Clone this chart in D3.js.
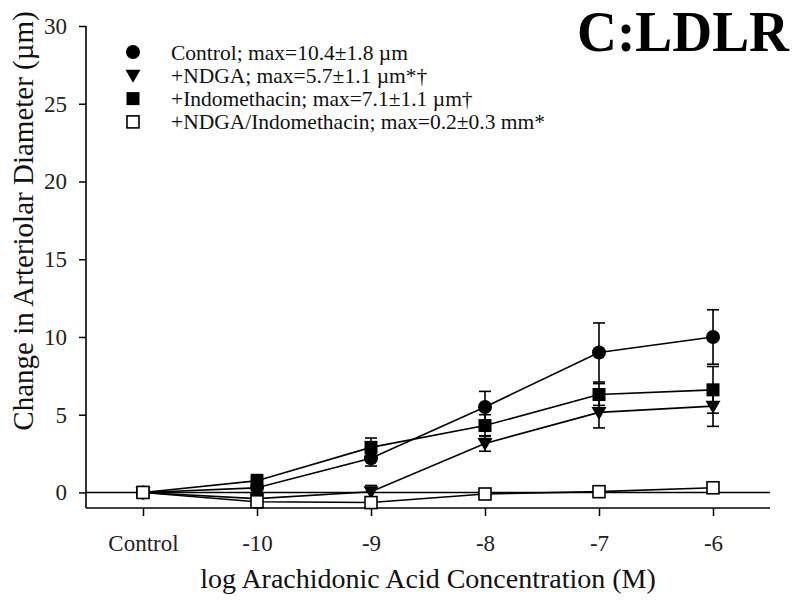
<!DOCTYPE html>
<html><head><meta charset="utf-8">
<script src="https://cdn.jsdelivr.net/npm/d3@7"></script>
<style>body{margin:0;background:#fff}svg{display:block}</style>
</head><body>
<script>
const categories = ["Control", "-10", "-9", "-8", "-7", "-6"];
const yTicks = [0, 5, 10, 15, 20, 25, 30];
const seriesNames = [
  "Control; max=10.4\u00b11.8 \u00b5m",
  "+NDGA; max=5.7\u00b11.1 \u00b5m*\u2020",
  "+Indomethacin; max=7.1\u00b11.1 \u00b5m\u2020",
  "+NDGA/Indomethacin; max=0.2\u00b10.3 mm*"
];
const controlMean = [0, 0.3, 2.2, 5.5, 9.0, 10.0];
const controlErr  = [0.2, 0.6, 0.5, 1.0, 1.9, 1.75];
const ndgaMean    = [0, -0.4, 0.05, 3.15, 5.15, 5.55];
const ndgaErr     = [0.2, 0.3, 0.4, 0.5, 1.0, 1.3];
const indoMean    = [0, 0.75, 2.9, 4.3, 6.3, 6.6];
const indoErr     = [0.2, 0.4, 0.6, 0.7, 0.7, 1.5];
const bothMean    = [0, -0.6, -0.65, -0.1, 0.05, 0.3];
const bothErr     = [0.1, 0.2, 0.2, 0.2, 0.2, 0.3];

const W = 800, H = 603;
const svg = d3.select("body").append("svg").attr("width", W).attr("height", H);
const font = "'Liberation Serif', 'Times New Roman', serif";

const x = d3.scaleLinear().domain([-0.5, 5.5]).range([86, 770]);
const y = d3.scaleLinear().domain([-1, 30]).range([508, 26]);

// axes
const yAxis = d3.axisLeft(y).tickValues(yTicks).tickSize(7).tickPadding(12);
const gy = svg.append("g").attr("transform", "translate(86,0)").call(yAxis);
gy.select(".domain").attr("d", `M0,${y(30)}V${y(-1)}`).attr("stroke", "#000").attr("stroke-width", 1.6);
gy.selectAll(".tick line").attr("stroke", "#000").attr("stroke-width", 1.5);
gy.selectAll(".tick text").attr("font-family", font).attr("font-size", 23).attr("fill", "#222");

const xAxis = d3.axisBottom(x).tickValues(d3.range(categories.length)).tickFormat(i => categories[i]).tickSize(8).tickPadding(19);
const gx = svg.append("g").attr("transform", `translate(0,${y(-1)})`).call(xAxis);
gx.select(".domain").attr("d", `M${x(-0.5)},0H${x(5.5)}`).attr("stroke", "#000").attr("stroke-width", 1.6);
gx.selectAll(".tick line").attr("stroke", "#000").attr("stroke-width", 1.5);
gx.selectAll(".tick text").attr("font-family", font).attr("font-size", 23).attr("fill", "#222");

// zero line
svg.append("line").attr("x1", x(-0.5)).attr("x2", x(5.5)).attr("y1", y(0)).attr("y2", y(0))
  .attr("stroke", "#000").attr("stroke-width", 1.6);

// titles
svg.append("text").attr("x", 428).attr("y", 588).attr("text-anchor", "middle")
  .attr("font-family", font).attr("font-size", 28).attr("fill", "#111")
  .text("log Arachidonic Acid Concentration (M)");
svg.append("text").attr("transform", "translate(33,221) rotate(-90)").attr("text-anchor", "middle")
  .attr("font-family", font).attr("font-size", 29).attr("fill", "#111")
  .text("Change in Arteriolar Diameter (\u00b5m)");
svg.append("text").attr("x", 789).attr("y", 51).attr("text-anchor", "end")
  .attr("font-family", font).attr("font-size", 57).attr("font-weight", "bold").attr("fill", "#000")
  .attr("textLength", 212).attr("lengthAdjust", "spacingAndGlyphs")
  .text("C:LDLR");

const series = [
  {mean: controlMean, err: controlErr, sym: "circle"},
  {mean: ndgaMean, err: ndgaErr, sym: "triangle"},
  {mean: indoMean, err: indoErr, sym: "square"},
  {mean: bothMean, err: bothErr, sym: "open"}
];

const line = d3.line().x((d, i) => x(i)).y(d => y(d));
series.forEach(s => {
  svg.append("path").attr("d", line(s.mean)).attr("fill", "none").attr("stroke", "#000").attr("stroke-width", 1.6);
});
series.forEach(s => {
  const g = svg.append("g").attr("stroke", "#000").attr("stroke-width", 1.6);
  s.mean.forEach((m, i) => {
    if (i === 0) return;
    const e = s.err[i];
    g.append("line").attr("x1", x(i)).attr("x2", x(i)).attr("y1", y(m - e)).attr("y2", y(m + e));
    [m - e, m + e].forEach(v => g.append("line").attr("x1", x(i) - 6).attr("x2", x(i) + 6).attr("y1", y(v)).attr("y2", y(v)));
  });
});

function drawSym(g, sym, cx, cy) {
  if (sym === "circle") g.append("circle").attr("cx", cx).attr("cy", cy).attr("r", 7).attr("fill", "#000");
  else if (sym === "triangle") g.append("path").attr("d", `M${cx-7.5},${cy-5.5}L${cx+7.5},${cy-5.5}L${cx},${cy+7.5}Z`).attr("fill", "#000");
  else if (sym === "square") g.append("rect").attr("x", cx-6.5).attr("y", cy-6.5).attr("width", 13).attr("height", 13).attr("fill", "#000");
  else g.append("rect").attr("x", cx-6).attr("y", cy-6).attr("width", 12).attr("height", 12).attr("fill", "#fff").attr("stroke", "#000").attr("stroke-width", 1.6);
}
series.forEach(s => {
  const g = svg.append("g");
  s.mean.forEach((m, i) => drawSym(g, s.sym, x(i), y(m)));
});

// legend
const lg = svg.append("g");
series.forEach((s, k) => {
  const cy = 52 + k * 23.3;
  drawSym(lg, s.sym, 133, cy);
  lg.append("text").attr("x", 171).attr("y", cy + 7.5).attr("font-family", font).attr("font-size", 21.5).attr("fill", "#111").text(seriesNames[k]);
});
</script>
</body></html>
